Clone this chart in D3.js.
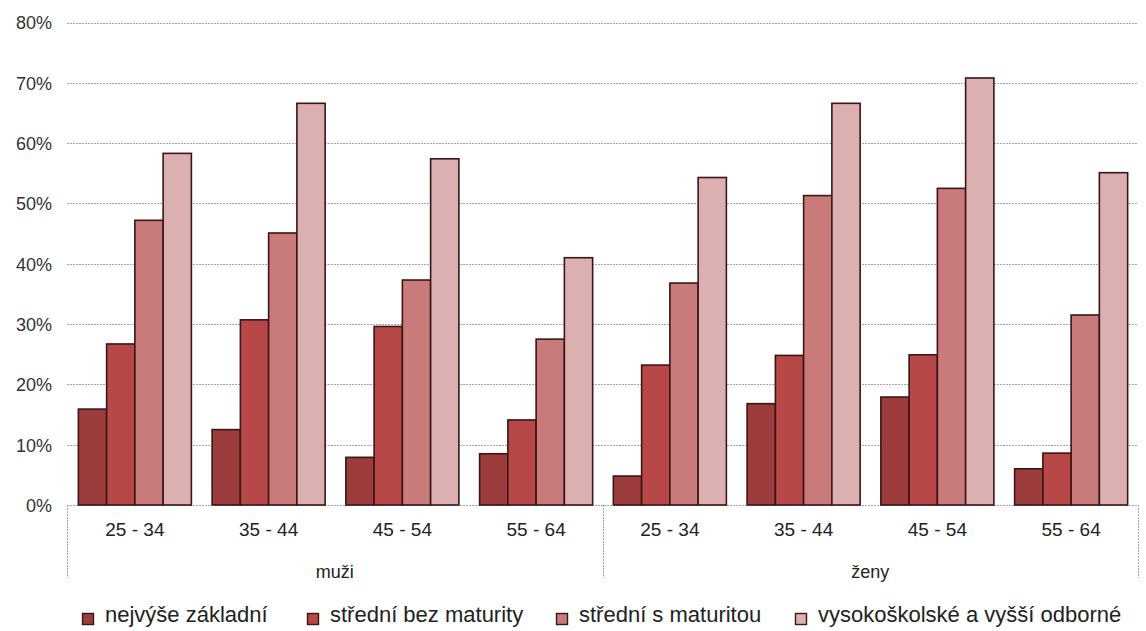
<!DOCTYPE html>
<html>
<head>
<meta charset="utf-8">
<script src="https://cdn.jsdelivr.net/npm/d3@7/dist/d3.min.js"></script>
<style>
  html, body { margin: 0; padding: 0; background: #fff; }
  svg { display: block; font-family: "Liberation Sans", Arial, sans-serif; }
</style>
</head>
<body>
<svg id="chart" width="1146" height="631"></svg>
<script>
// Age bands and gender groups
const ageBands = ["25 - 34", "35 - 44", "45 - 54", "55 - 64"];
const genders = ["muži", "ženy"];

// Education levels (legend order)
const seriesNames = [
  "nejvýše základní",
  "střední bez maturity",
  "střední s maturitou",
  "vysokoškolské a vyšší odborné"
];

// Shares in % — muži 25-34 … 55-64, then ženy 25-34 … 55-64
const nejvyseZakladni   = [15.9, 12.5, 7.9, 8.5, 4.8, 16.8, 17.9, 6.0];
const stredniBezMat     = [26.7, 30.7, 29.6, 14.1, 23.2, 24.8, 24.9, 8.6];
const stredniSMat       = [47.2, 45.1, 37.3, 27.5, 36.8, 51.3, 52.5, 31.5];
const vysokoskolske     = [58.3, 66.6, 57.4, 41.0, 54.3, 66.6, 70.8, 55.1];

const yTicks = [0, 10, 20, 30, 40, 50, 60, 70, 80];

const seriesValues = [nejvyseZakladni, stredniBezMat, stredniSMat, vysokoskolske];
const colors = ["#9c3c3c", "#b84747", "#c97b7b", "#dcb0b0"];

// One row per (gender, age) group
const groups = [];
genders.forEach(g => ageBands.forEach(a => groups.push({ gender: g, age: a, key: g + "|" + a })));

const svg = d3.select("#chart");
const plotLeft = 68, plotRight = 1138, plotTop = 22.5, plotBottom = 505;

const x0 = d3.scaleBand()
  .domain(groups.map(d => d.key))
  .range([plotLeft, plotRight])
  .paddingInner(0.155)
  .paddingOuter(0.0775);

const x1 = d3.scaleBand()
  .domain(seriesNames)
  .range([0, x0.bandwidth()]);

const y = d3.scaleLinear().domain([0, 80]).range([plotBottom, plotTop]);

// Horizontal dotted gridlines
svg.append("g")
  .selectAll("line")
  .data(yTicks)
  .join("line")
  .attr("x1", plotLeft - 1)
  .attr("x2", plotRight)
  .attr("y1", d => Math.round(y(d)) + 0.5)
  .attr("y2", d => Math.round(y(d)) + 0.5)
  .attr("stroke", "#a6a6a6")
  .attr("stroke-width", 1)
  .attr("stroke-dasharray", "2,1");

// Y axis labels
const yAxis = d3.axisLeft(y).tickValues(yTicks).tickFormat(d => d + "%").tickSize(0).tickPadding(0);
const yg = svg.append("g").attr("transform", "translate(52,0)").call(yAxis);
yg.select(".domain").remove();
yg.selectAll("text")
  .attr("font-size", 18)
  .attr("fill", "#333")
  .attr("dy", "0.35em")
  .attr("font-family", "Liberation Sans, Arial, sans-serif");

// Bars
const barRows = groups.map((g, i) => ({
  key: g.key,
  bars: seriesNames.map((s, j) => ({ series: s, value: seriesValues[j][i], color: colors[j] }))
}));

svg.append("g")
  .selectAll("g")
  .data(barRows)
  .join("g")
  .attr("transform", d => `translate(${x0(d.key)},0)`)
  .selectAll("rect")
  .data(d => d.bars)
  .join("rect")
  .attr("x", d => x1(d.series))
  .attr("width", x1.bandwidth())
  .attr("y", d => y(d.value))
  .attr("height", d => y(0) - y(d.value))
  .attr("fill", d => d.color)
  .attr("stroke", "#3a1616")
  .attr("stroke-width", 1.6);

// Age band labels under each group
svg.append("g")
  .selectAll("text")
  .data(groups)
  .join("text")
  .attr("x", d => x0(d.key) + x0.bandwidth() / 2)
  .attr("y", 536)
  .attr("text-anchor", "middle")
  .attr("font-size", 19)
  .attr("fill", "#222")
  .text(d => d.age);

// Gender spans with dotted separators
const genderSpan = d3.scaleBand().domain(genders).range([plotLeft - 1, plotRight]);
const sepXs = [plotLeft - 1].concat(genders.map(g => genderSpan(g) + genderSpan.bandwidth()));
svg.append("g")
  .selectAll("line")
  .data(sepXs)
  .join("line")
  .attr("x1", d => Math.round(d) + 0.5)
  .attr("x2", d => Math.round(d) + 0.5)
  .attr("y1", plotBottom)
  .attr("y2", 578)
  .attr("stroke", "#a6a6a6")
  .attr("stroke-dasharray", "2,1");

svg.append("g")
  .selectAll("text")
  .data(genders)
  .join("text")
  .attr("x", d => genderSpan(d) + genderSpan.bandwidth() / 2)
  .attr("y", 578)
  .attr("text-anchor", "middle")
  .attr("font-size", 18)
  .attr("fill", "#222")
  .text(d => d);

// Legend
const legendX = [82, 307, 556, 795];
const legend = svg.append("g")
  .selectAll("g")
  .data(seriesNames)
  .join("g")
  .attr("transform", (d, i) => `translate(${legendX[i]},0)`);

legend.append("rect")
  .attr("x", 0.5)
  .attr("y", 613.5)
  .attr("width", 11)
  .attr("height", 11)
  .attr("fill", (d, i) => colors[i])
  .attr("stroke", "#3a1616")
  .attr("stroke-width", 1.4);

legend.append("text")
  .attr("x", 23)
  .attr("y", 622)
  .attr("font-size", 22)
  .attr("fill", "#222")
  .text(d => d);
</script>
</body>
</html>
